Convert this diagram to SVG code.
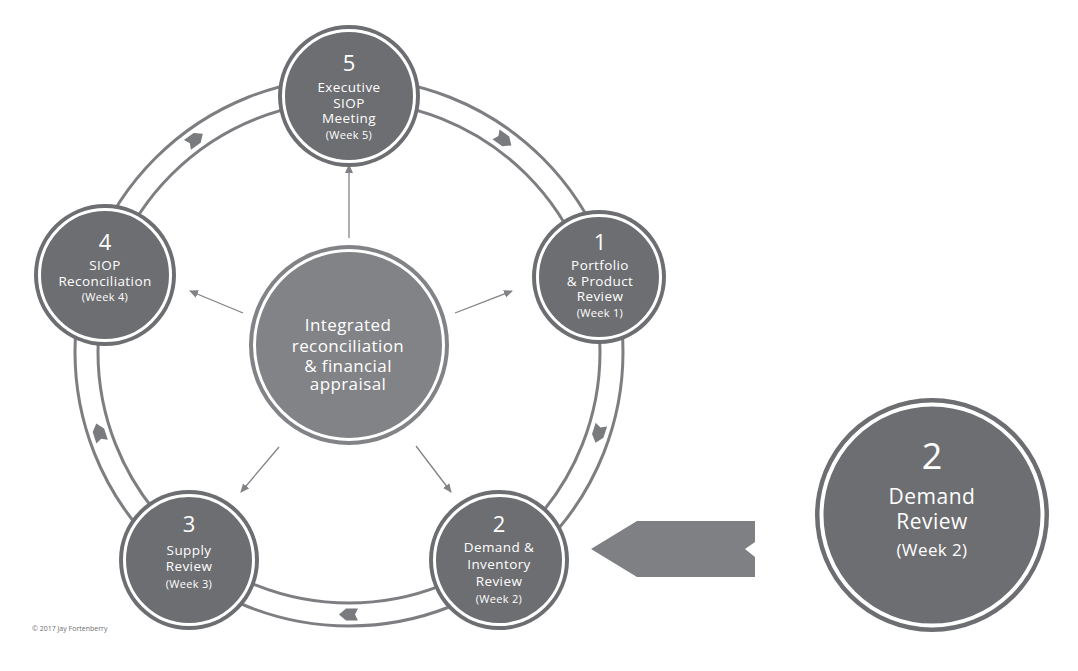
<svg xmlns="http://www.w3.org/2000/svg" width="1078" height="671" viewBox="0 0 1078 671">
<style>
.ring{fill:none;stroke:#7d7e81;stroke-width:3}
.nodeBg{fill:#6d6e71}
.inner{fill:none;stroke:#fff;stroke-width:3}
.t{font-family:"Open Sans","Liberation Sans",sans-serif;fill:#fff;text-anchor:middle}
.num{font-size:22px}
.lbl{font-size:13.5px;letter-spacing:0.4px}
.wk{font-size:11px;letter-spacing:0.3px}
.conn{stroke:#808285;stroke-width:1.3;fill:none;marker-end:url(#ah)}
.rarrow{fill:#7a7b7e}
</style>
<defs>
<marker id="ah" markerWidth="10" markerHeight="10" refX="8" refY="4" orient="auto" markerUnits="userSpaceOnUse">
<path d="M0,0 L9,4 L0,8 Z" fill="#808285"/>
</marker>
<path id="rp" d="M-9,-6 L3,-6 L10,0 L3,6 L-9,6 L-6,0 Z"/>
</defs>
<rect width="1078" height="671" fill="#fff"/>

<g id="cycle-ring">
<circle class="ring" cx="349" cy="352" r="274"/>
<circle class="ring" cx="349" cy="352" r="251"/>
<use href="#rp" class="rarrow" transform="translate(349 352) rotate(-54) translate(262.5 0) rotate(90)"/>
<use href="#rp" class="rarrow" transform="translate(349 352) rotate(18) translate(262.5 0) rotate(90)"/>
<use href="#rp" class="rarrow" transform="translate(349 352) rotate(90) translate(262.5 0) rotate(90)"/>
<use href="#rp" class="rarrow" transform="translate(349 352) rotate(162) translate(262.5 0) rotate(90)"/>
<use href="#rp" class="rarrow" transform="translate(349 352) rotate(234) translate(262.5 0) rotate(90)"/>
</g>

<g id="connectors">
<line class="conn" x1="349" y1="238" x2="349" y2="165"/>
<line class="conn" x1="455" y1="313" x2="512" y2="291"/>
<line class="conn" x1="243" y1="313" x2="190" y2="291"/>
<line class="conn" x1="416" y1="446" x2="451" y2="492"/>
<line class="conn" x1="279" y1="447" x2="241" y2="492"/>
</g>

<g id="node-center">
<circle cx="349" cy="345" r="100" fill="#828386"/>
<circle cx="349" cy="345" r="94.5" class="inner"/>
<text class="t" font-size="17" letter-spacing="0.4" x="348" y="331">Integrated</text>
<text class="t" font-size="17" letter-spacing="0.4" x="348" y="352">reconciliation</text>
<text class="t" font-size="17" letter-spacing="0.4" x="348" y="372">&amp; financial</text>
<text class="t" font-size="17" letter-spacing="0.4" x="348" y="390">appraisal</text>
</g>

<g id="node-5">
<circle class="nodeBg" cx="349" cy="96" r="71"/>
<circle class="inner" cx="349" cy="96" r="65.5"/>
<text class="t num" x="349" y="71">5</text>
<text class="t lbl" x="349" y="92">Executive</text>
<text class="t lbl" x="349" y="108">SIOP</text>
<text class="t lbl" x="349" y="123">Meeting</text>
<text class="t wk" x="349" y="139">(Week 5)</text>
</g>

<g id="node-1">
<circle class="nodeBg" cx="599" cy="277" r="67"/>
<circle class="inner" cx="599" cy="277" r="61.5"/>
<text class="t num" x="600" y="250">1</text>
<text class="t lbl" x="600" y="270">Portfolio</text>
<text class="t lbl" x="600" y="286">&amp; Product</text>
<text class="t lbl" x="600" y="301">Review</text>
<text class="t wk" x="600" y="317">(Week 1)</text>
</g>

<g id="node-4">
<circle class="nodeBg" cx="105" cy="275" r="71"/>
<circle class="inner" cx="105" cy="275" r="65.5"/>
<text class="t num" x="105" y="250">4</text>
<text class="t lbl" x="105" y="270">SIOP</text>
<text class="t lbl" x="105" y="286">Reconciliation</text>
<text class="t wk" x="105" y="301">(Week 4)</text>
</g>

<g id="node-2">
<circle class="nodeBg" cx="499" cy="560" r="70"/>
<circle class="inner" cx="499" cy="560" r="64.5"/>
<text class="t num" x="499" y="532">2</text>
<text class="t lbl" x="499" y="552">Demand &amp;</text>
<text class="t lbl" x="499" y="569">Inventory</text>
<text class="t lbl" x="499" y="586">Review</text>
<text class="t wk" x="499" y="603">(Week 2)</text>
</g>

<g id="node-3">
<circle class="nodeBg" cx="189" cy="560" r="70"/>
<circle class="inner" cx="189" cy="560" r="64.5"/>
<text class="t num" x="189" y="532">3</text>
<text class="t lbl" x="189" y="555">Supply</text>
<text class="t lbl" x="189" y="571">Review</text>
<text class="t wk" x="189" y="588">(Week 3)</text>
</g>

<g id="pointer-arrow">
<polygon points="591,549 637,521 755,521 755,542 745,549 755,557 755,577 637,577" fill="#7f8083"/>
</g>

<g id="node-detail">
<circle class="nodeBg" cx="932" cy="515" r="117"/>
<circle cx="932" cy="515" r="110.5" fill="none" stroke="#fff" stroke-width="4"/>
<text class="t" font-size="36" x="932" y="469">2</text>
<text class="t" font-size="21" letter-spacing="0.5" x="932" y="504">Demand</text>
<text class="t" font-size="21" letter-spacing="0.5" x="932" y="529">Review</text>
<text class="t" font-size="17" letter-spacing="0.4" x="932" y="556">(Week 2)</text>
</g>

<text x="32" y="631" font-family="'Open Sans','Liberation Sans',sans-serif" font-size="7" fill="#6d6e71">© 2017 Jay Fortenberry</text>
</svg>
